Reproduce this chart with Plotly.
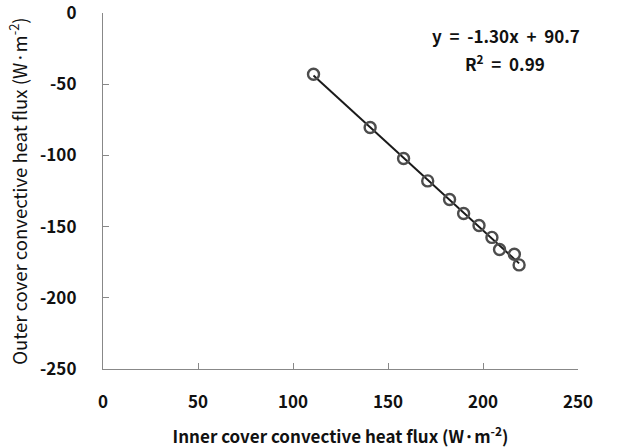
import numpy as np
import plotly.graph_objects as go

inner_flux = [110.8, 140.6, 158.2, 170.9, 182.4, 189.8, 197.9, 204.7, 208.7, 216.5, 219.0]
outer_flux = [-43.0, -80.4, -102.2, -117.9, -131.0, -140.8, -149.2, -157.6, -166.1, -169.4, -176.9]
x_ticks = [0, 50, 100, 150, 200, 250]
y_ticks = [0, -50, -100, -150, -200, -250]
x_tick_labels = ["0", "50", "100", "150", "200", "250"]
y_tick_labels = ["0", "-50", "-100", "-150", "-200", "-250"]
equation_text = "y  =  -1.30x  +  90.7"
r2_text = "R<sup>2</sup>  =  0.99"

slope, intercept = np.polyfit(inner_flux, outer_flux, 1)
fit_x = [min(inner_flux), max(inner_flux)]
fit_y = [slope * v + intercept for v in fit_x]

FONT = "Noto Sans CJK KR, Noto Sans, sans-serif"

fig = go.Figure()
fig.add_trace(go.Scatter(x=fit_x, y=fit_y, mode="lines",
                         line=dict(color="#1a1a1a", width=2), showlegend=False))
fig.add_trace(go.Scatter(x=inner_flux, y=outer_flux, mode="markers",
                         marker=dict(symbol="circle-open", size=11, color="#4d4d4d",
                                     line=dict(width=2.4, color="#4d4d4d")),
                         showlegend=False))

fig.add_annotation(x=0.849, y=0.938, xref="paper", yref="paper", text=equation_text,
                   xanchor="center", yanchor="middle",
                   showarrow=False, font=dict(family=FONT, size=17, color="#111", weight="bold"))
fig.add_annotation(x=0.847, y=0.86, xref="paper", yref="paper", text=r2_text,
                   xanchor="center", yanchor="middle",
                   showarrow=False, font=dict(family=FONT, size=17, color="#111", weight="bold"))

fig.update_layout(
    width=642, height=448,
    margin=dict(l=103, r=64, t=13, b=79, autoexpand=False),
    paper_bgcolor="white", plot_bgcolor="white",
    font=dict(family=FONT, color="#111"),
    xaxis=dict(range=[0, 250], tickvals=x_ticks, ticktext=x_tick_labels,
               ticks="inside", ticklen=6, tickcolor="#888", automargin=False,
               showline=True, linecolor="#888", linewidth=1.3, showgrid=False, zeroline=False,
               tickfont=dict(family=FONT, size=17, color="#111", weight="bold"), ticklabelstandoff=17,
               ticklabeloverflow="allow",
               title=dict(text="Inner cover convective heat flux (W·m<sup>-2</sup>)",
                          font=dict(family=FONT, size=17, color="#111", weight="bold"), standoff=19)),
    yaxis=dict(range=[-250, 0], tickvals=y_ticks, ticktext=y_tick_labels,
               ticks="inside", ticklen=6, tickcolor="#888", automargin=False,
               showline=True, linecolor="#888", linewidth=1.3, showgrid=False, zeroline=False,
               tickfont=dict(family=FONT, size=17, color="#111", weight="bold"), ticklabelstandoff=22,
               ticklabeloverflow="allow",
               title=dict(text="Outer cover convective heat flux (W·m<sup>-2</sup>)",
                          font=dict(family=FONT, size=18.5, color="#111"), standoff=7)),
)

fig.write_html("out.html", config={"displayModeBar": False},
               post_script="document.body.style.margin='0';")
